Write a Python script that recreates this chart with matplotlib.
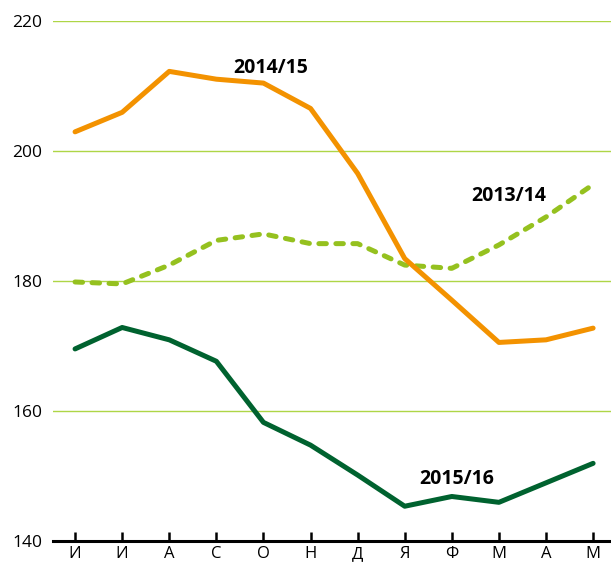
import matplotlib.pyplot as plt

months = ['И', 'И', 'А', 'С', 'О', 'Н', 'Д', 'Я', 'Ф', 'М', 'А', 'М']
s1314 = [179.8, 179.5, 182.4, 186.2, 187.2, 185.7, 185.7, 182.4, 181.9, 185.5, 189.8, 194.8]
s1415 = [202.9, 205.9, 212.2, 211.0, 210.4, 206.5, 196.5, 183.4, 177.0, 170.5, 170.9, 172.7]
s1516 = [169.5, 172.8, 170.9, 167.6, 158.2, 154.7, 150.1, 145.3, 146.8, 145.9, 148.9, 151.9]

plt.rcParams['font.family'] = ['Open Sans', 'DejaVu Sans']

fig = plt.figure(figsize=(6.11, 5.73), dpi=100)
ax = fig.add_axes([0.0874, 0.0564, 0.9126, 0.9075])

x = range(len(months))
ax.plot(x, s1314, color='#95c11f', lw=3.6, ls=(0, (1.5, 1.9)), dash_capstyle='round',
        solid_joinstyle='round', clip_on=False, zorder=3)
ax.plot(x, s1415, color='#f39200', lw=3.6, solid_capstyle='round', solid_joinstyle='round',
        clip_on=False, zorder=4)
ax.plot(x, s1516, color='#00622f', lw=3.6, solid_capstyle='round', solid_joinstyle='round',
        clip_on=False, zorder=4)

ax.text(4.16, 212.7, '2014/15', fontsize=14, fontweight='bold', ha='center', va='center')
ax.text(9.21, 193.1, '2013/14', fontsize=14, fontweight='bold', ha='center', va='center')
ax.text(8.10, 149.5, '2015/16', fontsize=14, fontweight='bold', ha='center', va='center')

ax.set_xlim(-0.46, 11.38)
ax.set_ylim(140, 220)
ax.set_yticks([140, 160, 180, 200, 220])
ax.set_xticks(list(x))
ax.set_xticklabels(months)
ax.grid(axis='y', color='#aed646', lw=1.0)
ax.set_axisbelow(True)

for s in ['top', 'right', 'left']:
    ax.spines[s].set_visible(False)
ax.spines['bottom'].set_linewidth(2.2)
ax.spines['bottom'].set_zorder(5)
ax.tick_params(axis='x', direction='in', length=6.5, width=1.8, labelsize=12, pad=4)
ax.tick_params(axis='y', length=0, labelsize=12.5, pad=8)

fig.savefig('out.png', dpi=100)
